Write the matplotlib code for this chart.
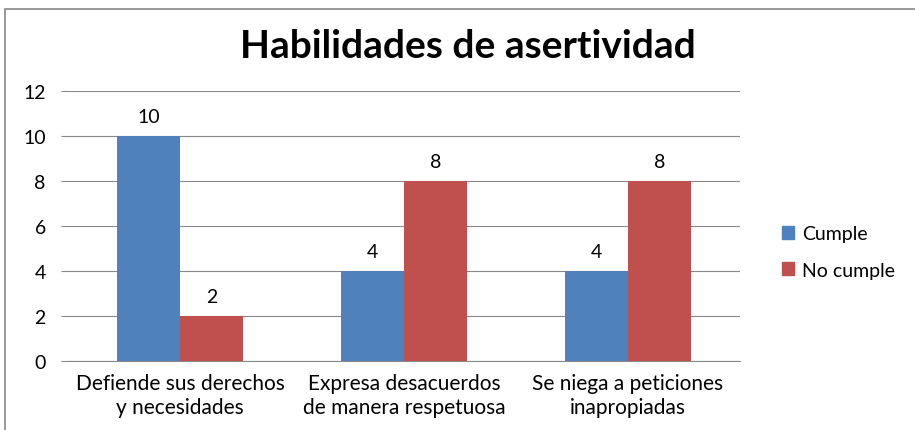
import matplotlib
matplotlib.use("Agg")
import matplotlib.pyplot as plt
import numpy as np
from matplotlib.patches import Rectangle, Patch

categories = ["Defiende sus derechos\ny necesidades",
              "Expresa desacuerdos\nde manera respetuosa",
              "Se niega a peticiones\ninapropiadas"]
cumple = [10, 4, 4]
no_cumple = [2, 8, 8]
y_ticks = [0, 2, 4, 6, 8, 10, 12]

blue = "#4F81BD"
red = "#C0504D"
plt.rcParams["font.family"] = ["Lato", "DejaVu Sans"]

fig = plt.figure(figsize=(9.15, 4.31), dpi=100)
ax = fig.add_axes([68 / 915, 1 - 362 / 431, 672 / 915, 270 / 431])

x = np.arange(len(categories))
w = 0.28
b1 = ax.bar(x - w / 2, cumple, w, color=blue, zorder=3)
b2 = ax.bar(x + w / 2, no_cumple, w, color=red, zorder=3)
for bars, vals in ((b1, cumple), (b2, no_cumple)):
    for r, v in zip(bars, vals):
        ax.text(r.get_x() + r.get_width() / 2, v + 0.5, str(v),
                ha="center", va="bottom", fontsize=14)

ax.set_xlim(-0.5, len(categories) - 0.5)
ax.set_ylim(0, 12)
ax.set_yticks(y_ticks)
ax.set_yticklabels([str(t) for t in y_ticks], fontsize=14)
ax.set_xticks(x)
ax.set_xticklabels(categories, fontsize=15, linespacing=1.25)
ax.tick_params(axis="x", length=0, pad=9)
ax.tick_params(axis="y", length=5, color="#888888", pad=11)
ax.grid(axis="y", color="#888888", linewidth=0.8, zorder=0)
for s in ("top", "right", "left"):
    ax.spines[s].set_visible(False)
ax.spines["bottom"].set_color("#888888")

fig.text(468 / 915, 1 - 47 / 431, "Habilidades de asertividad",
         ha="center", va="center", fontsize=28, fontweight="bold")

handles = [Patch(color=blue, label="Cumple"), Patch(color=red, label="No cumple")]
fig.legend(handles=handles, loc="center left", bbox_to_anchor=(764 / 915, 1 - 253 / 431),
           frameon=False, fontsize=14, handlelength=0.65, handleheight=0.65,
           handletextpad=0.4, labelspacing=1.0)

fig.patches.append(Rectangle((5 / 915, -0.2), 2, 1.2 - 10 / 431, transform=fig.transFigure,
                             fill=False, edgecolor="#888888", linewidth=1.2))

fig.savefig("out.png", dpi=100)
